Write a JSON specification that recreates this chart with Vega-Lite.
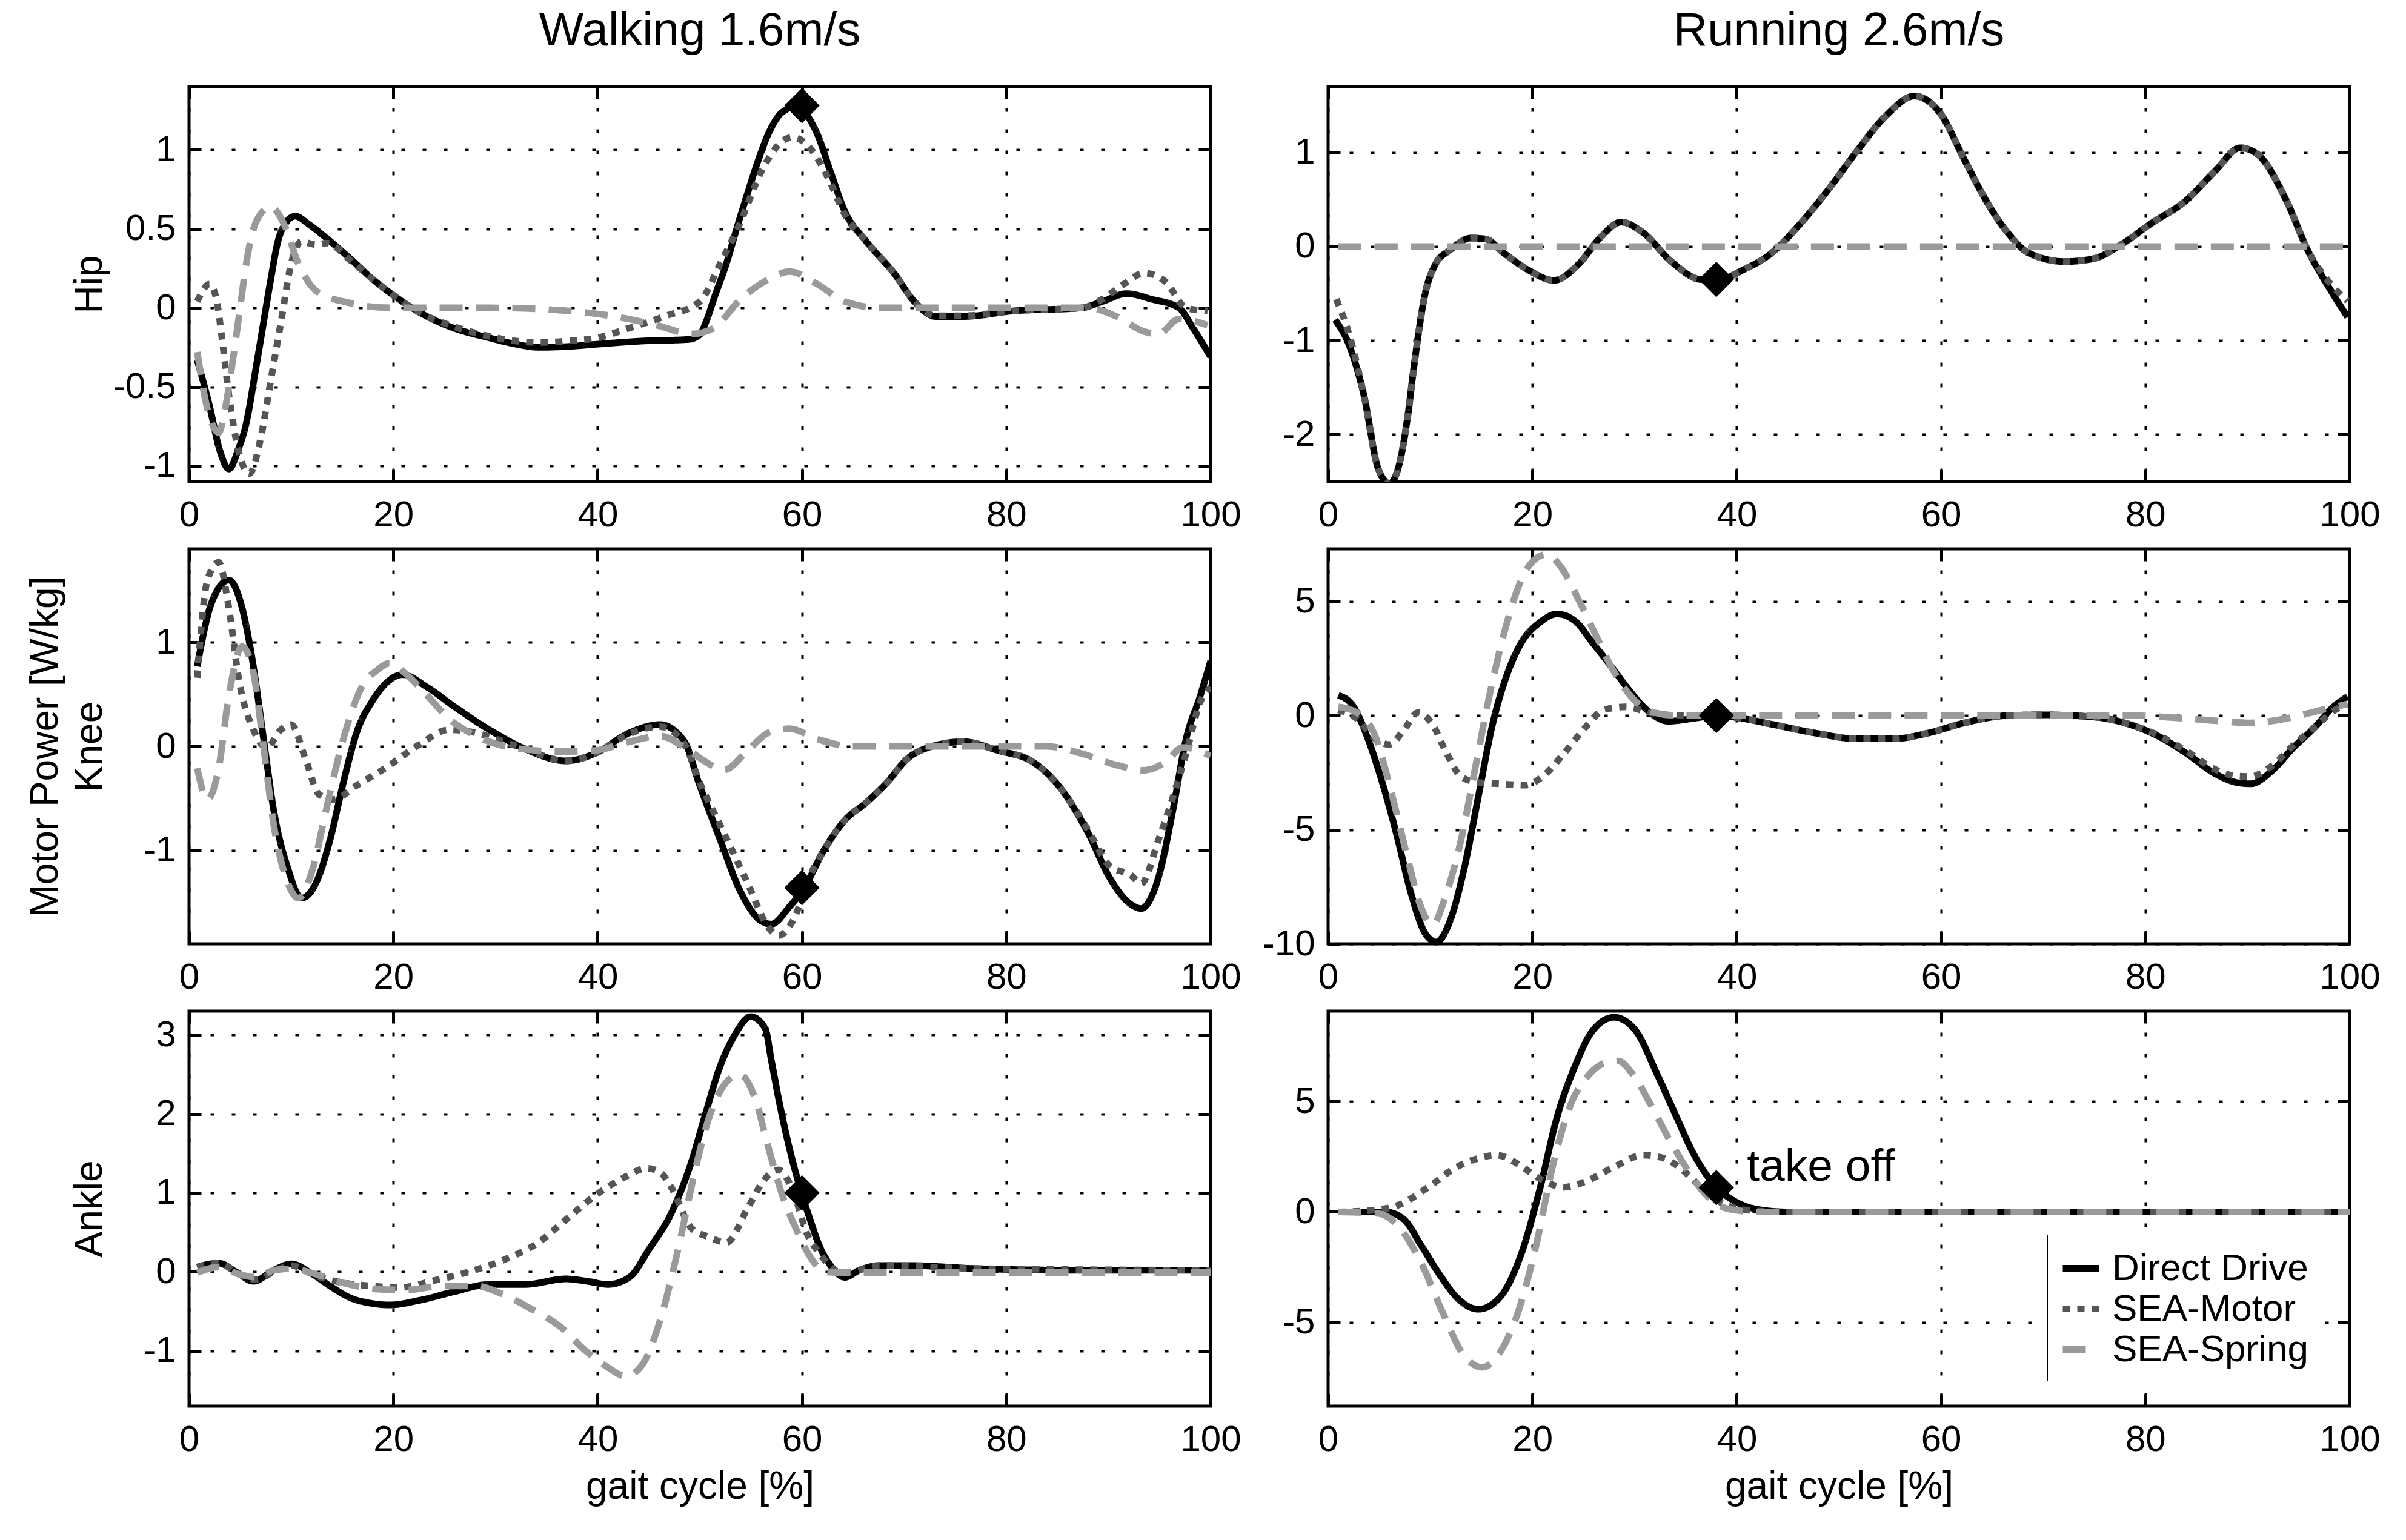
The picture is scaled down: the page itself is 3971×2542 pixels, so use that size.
{
  "$schema": "https://vega.github.io/schema/vega-lite/v6.json",
  "description": "Motor power over the gait cycle: walking and running, hip, knee, ankle",
  "background": "white",
  "padding": {"left": 40, "top": 10, "right": 20, "bottom": 20},
  "datasets": {
    "curves": [
      {"p":"WH","s":"Direct Drive","x":0.8,"y":-0.33},{"p":"WH","s":"Direct Drive","x":2,"y":-0.62},{"p":"WH","s":"Direct Drive","x":3,"y":-0.9},{"p":"WH","s":"Direct Drive","x":3.9,"y":-1.02},{"p":"WH","s":"Direct Drive","x":4.8,"y":-0.9},{"p":"WH","s":"Direct Drive","x":5.6,"y":-0.73},{"p":"WH","s":"Direct Drive","x":6.5,"y":-0.4},{"p":"WH","s":"Direct Drive","x":7.3,"y":-0.09},{"p":"WH","s":"Direct Drive","x":8,"y":0.18},{"p":"WH","s":"Direct Drive","x":8.7,"y":0.42},{"p":"WH","s":"Direct Drive","x":9.5,"y":0.54},{"p":"WH","s":"Direct Drive","x":10.4,"y":0.58},{"p":"WH","s":"Direct Drive","x":11.7,"y":0.53},{"p":"WH","s":"Direct Drive","x":13.1,"y":0.46},{"p":"WH","s":"Direct Drive","x":15.8,"y":0.31},{"p":"WH","s":"Direct Drive","x":18,"y":0.18},{"p":"WH","s":"Direct Drive","x":20,"y":0.08},{"p":"WH","s":"Direct Drive","x":22.6,"y":-0.03},{"p":"WH","s":"Direct Drive","x":26,"y":-0.13},{"p":"WH","s":"Direct Drive","x":29.4,"y":-0.19},{"p":"WH","s":"Direct Drive","x":32,"y":-0.23},{"p":"WH","s":"Direct Drive","x":34.2,"y":-0.25},{"p":"WH","s":"Direct Drive","x":37,"y":-0.245},{"p":"WH","s":"Direct Drive","x":40,"y":-0.23},{"p":"WH","s":"Direct Drive","x":44.4,"y":-0.21},{"p":"WH","s":"Direct Drive","x":48.9,"y":-0.2},{"p":"WH","s":"Direct Drive","x":50,"y":-0.17},{"p":"WH","s":"Direct Drive","x":50.6,"y":-0.09},{"p":"WH","s":"Direct Drive","x":51.5,"y":0.08},{"p":"WH","s":"Direct Drive","x":52.6,"y":0.28},{"p":"WH","s":"Direct Drive","x":53.6,"y":0.5},{"p":"WH","s":"Direct Drive","x":54.7,"y":0.73},{"p":"WH","s":"Direct Drive","x":55.7,"y":0.93},{"p":"WH","s":"Direct Drive","x":56.7,"y":1.1},{"p":"WH","s":"Direct Drive","x":58.1,"y":1.24},{"p":"WH","s":"Direct Drive","x":59.8,"y":1.28},{"p":"WH","s":"Direct Drive","x":60.7,"y":1.2},{"p":"WH","s":"Direct Drive","x":61.5,"y":1.1},{"p":"WH","s":"Direct Drive","x":62.8,"y":0.86},{"p":"WH","s":"Direct Drive","x":64.2,"y":0.61},{"p":"WH","s":"Direct Drive","x":66.3,"y":0.42},{"p":"WH","s":"Direct Drive","x":69,"y":0.22},{"p":"WH","s":"Direct Drive","x":71,"y":0.04},{"p":"WH","s":"Direct Drive","x":73.1,"y":-0.055},{"p":"WH","s":"Direct Drive","x":75.8,"y":-0.055},{"p":"WH","s":"Direct Drive","x":80.6,"y":-0.02},{"p":"WH","s":"Direct Drive","x":87.4,"y":0},{"p":"WH","s":"Direct Drive","x":89.4,"y":0.04},{"p":"WH","s":"Direct Drive","x":91.8,"y":0.09},{"p":"WH","s":"Direct Drive","x":94.2,"y":0.055},{"p":"WH","s":"Direct Drive","x":96.9,"y":0},{"p":"WH","s":"Direct Drive","x":98.3,"y":-0.13},{"p":"WH","s":"Direct Drive","x":100,"y":-0.31},
      {"p":"WH","s":"SEA-Motor","x":0.8,"y":0.04},{"p":"WH","s":"SEA-Motor","x":2,"y":0.15},{"p":"WH","s":"SEA-Motor","x":2.7,"y":0.05},{"p":"WH","s":"SEA-Motor","x":3.2,"y":-0.18},{"p":"WH","s":"SEA-Motor","x":3.9,"y":-0.55},{"p":"WH","s":"SEA-Motor","x":4.9,"y":-0.92},{"p":"WH","s":"SEA-Motor","x":5.9,"y":-1.05},{"p":"WH","s":"SEA-Motor","x":7,"y":-0.83},{"p":"WH","s":"SEA-Motor","x":8,"y":-0.46},{"p":"WH","s":"SEA-Motor","x":9,"y":-0.09},{"p":"WH","s":"SEA-Motor","x":10,"y":0.28},{"p":"WH","s":"SEA-Motor","x":11,"y":0.42},{"p":"WH","s":"SEA-Motor","x":12.4,"y":0.4},{"p":"WH","s":"SEA-Motor","x":13.5,"y":0.41},{"p":"WH","s":"SEA-Motor","x":15.8,"y":0.3},{"p":"WH","s":"SEA-Motor","x":18,"y":0.18},{"p":"WH","s":"SEA-Motor","x":20,"y":0.08},{"p":"WH","s":"SEA-Motor","x":22.6,"y":-0.03},{"p":"WH","s":"SEA-Motor","x":26,"y":-0.12},{"p":"WH","s":"SEA-Motor","x":29.4,"y":-0.18},{"p":"WH","s":"SEA-Motor","x":32,"y":-0.21},{"p":"WH","s":"SEA-Motor","x":34.2,"y":-0.22},{"p":"WH","s":"SEA-Motor","x":37,"y":-0.21},{"p":"WH","s":"SEA-Motor","x":40,"y":-0.19},{"p":"WH","s":"SEA-Motor","x":43,"y":-0.13},{"p":"WH","s":"SEA-Motor","x":46.5,"y":-0.055},{"p":"WH","s":"SEA-Motor","x":50,"y":0.04},{"p":"WH","s":"SEA-Motor","x":52,"y":0.28},{"p":"WH","s":"SEA-Motor","x":53.9,"y":0.53},{"p":"WH","s":"SEA-Motor","x":56,"y":0.86},{"p":"WH","s":"SEA-Motor","x":58,"y":1.05},{"p":"WH","s":"SEA-Motor","x":59.1,"y":1.08},{"p":"WH","s":"SEA-Motor","x":60.8,"y":1.01},{"p":"WH","s":"SEA-Motor","x":62.5,"y":0.83},{"p":"WH","s":"SEA-Motor","x":64.2,"y":0.59},{"p":"WH","s":"SEA-Motor","x":66.3,"y":0.42},{"p":"WH","s":"SEA-Motor","x":69,"y":0.22},{"p":"WH","s":"SEA-Motor","x":71,"y":0.04},{"p":"WH","s":"SEA-Motor","x":73.1,"y":-0.05},{"p":"WH","s":"SEA-Motor","x":75.8,"y":-0.05},{"p":"WH","s":"SEA-Motor","x":80.6,"y":-0.02},{"p":"WH","s":"SEA-Motor","x":87.4,"y":0},{"p":"WH","s":"SEA-Motor","x":89.4,"y":0.055},{"p":"WH","s":"SEA-Motor","x":91.5,"y":0.15},{"p":"WH","s":"SEA-Motor","x":93.5,"y":0.22},{"p":"WH","s":"SEA-Motor","x":95.6,"y":0.165},{"p":"WH","s":"SEA-Motor","x":97.6,"y":0},{"p":"WH","s":"SEA-Motor","x":99.7,"y":-0.02},
      {"p":"WH","s":"SEA-Spring","x":0.8,"y":-0.28},{"p":"WH","s":"SEA-Spring","x":1.8,"y":-0.64},{"p":"WH","s":"SEA-Spring","x":2.9,"y":-0.79},{"p":"WH","s":"SEA-Spring","x":3.5,"y":-0.65},{"p":"WH","s":"SEA-Spring","x":4.2,"y":-0.37},{"p":"WH","s":"SEA-Spring","x":5,"y":0},{"p":"WH","s":"SEA-Spring","x":5.6,"y":0.28},{"p":"WH","s":"SEA-Spring","x":6.6,"y":0.55},{"p":"WH","s":"SEA-Spring","x":8,"y":0.64},{"p":"WH","s":"SEA-Spring","x":9.3,"y":0.53},{"p":"WH","s":"SEA-Spring","x":10.7,"y":0.28},{"p":"WH","s":"SEA-Spring","x":12.4,"y":0.11},{"p":"WH","s":"SEA-Spring","x":15.1,"y":0.04},{"p":"WH","s":"SEA-Spring","x":19.9,"y":0},{"p":"WH","s":"SEA-Spring","x":29.4,"y":0},{"p":"WH","s":"SEA-Spring","x":36.3,"y":-0.015},{"p":"WH","s":"SEA-Spring","x":41.7,"y":-0.055},{"p":"WH","s":"SEA-Spring","x":45.8,"y":-0.11},{"p":"WH","s":"SEA-Spring","x":49.2,"y":-0.165},{"p":"WH","s":"SEA-Spring","x":51.3,"y":-0.13},{"p":"WH","s":"SEA-Spring","x":54,"y":0.055},{"p":"WH","s":"SEA-Spring","x":56.7,"y":0.18},{"p":"WH","s":"SEA-Spring","x":58.8,"y":0.23},{"p":"WH","s":"SEA-Spring","x":61.5,"y":0.15},{"p":"WH","s":"SEA-Spring","x":64.2,"y":0.04},{"p":"WH","s":"SEA-Spring","x":67.6,"y":0},{"p":"WH","s":"SEA-Spring","x":88,"y":0},{"p":"WH","s":"SEA-Spring","x":90.8,"y":-0.055},{"p":"WH","s":"SEA-Spring","x":93.5,"y":-0.15},{"p":"WH","s":"SEA-Spring","x":94.9,"y":-0.165},{"p":"WH","s":"SEA-Spring","x":96.9,"y":-0.07},{"p":"WH","s":"SEA-Spring","x":99.7,"y":-0.11},

      {"p":"RH","s":"Direct Drive","x":0.7,"y":-0.78},{"p":"RH","s":"Direct Drive","x":2.1,"y":-1.06},{"p":"RH","s":"Direct Drive","x":3.5,"y":-1.58},{"p":"RH","s":"Direct Drive","x":4.9,"y":-2.36},{"p":"RH","s":"Direct Drive","x":6,"y":-2.52},{"p":"RH","s":"Direct Drive","x":7,"y":-2.3},{"p":"RH","s":"Direct Drive","x":7.8,"y":-1.8},{"p":"RH","s":"Direct Drive","x":8.4,"y":-1.28},{"p":"RH","s":"Direct Drive","x":9.5,"y":-0.5},{"p":"RH","s":"Direct Drive","x":10.5,"y":-0.19},{"p":"RH","s":"Direct Drive","x":11.9,"y":-0.04},{"p":"RH","s":"Direct Drive","x":14,"y":0.09},{"p":"RH","s":"Direct Drive","x":15.4,"y":0.08},{"p":"RH","s":"Direct Drive","x":17.2,"y":-0.07},{"p":"RH","s":"Direct Drive","x":19.6,"y":-0.25},{"p":"RH","s":"Direct Drive","x":22.1,"y":-0.36},{"p":"RH","s":"Direct Drive","x":24.5,"y":-0.19},{"p":"RH","s":"Direct Drive","x":26.6,"y":0.09},{"p":"RH","s":"Direct Drive","x":28.7,"y":0.26},{"p":"RH","s":"Direct Drive","x":30.8,"y":0.15},{"p":"RH","s":"Direct Drive","x":33.6,"y":-0.16},{"p":"RH","s":"Direct Drive","x":36.4,"y":-0.35},{"p":"RH","s":"Direct Drive","x":38,"y":-0.36},{"p":"RH","s":"Direct Drive","x":40.6,"y":-0.25},{"p":"RH","s":"Direct Drive","x":43.4,"y":-0.07},{"p":"RH","s":"Direct Drive","x":46.2,"y":0.24},{"p":"RH","s":"Direct Drive","x":49,"y":0.61},{"p":"RH","s":"Direct Drive","x":51.8,"y":1.02},{"p":"RH","s":"Direct Drive","x":54.6,"y":1.39},{"p":"RH","s":"Direct Drive","x":57.4,"y":1.6},{"p":"RH","s":"Direct Drive","x":59.9,"y":1.42},{"p":"RH","s":"Direct Drive","x":62.3,"y":0.92},{"p":"RH","s":"Direct Drive","x":64.4,"y":0.49},{"p":"RH","s":"Direct Drive","x":66.5,"y":0.15},{"p":"RH","s":"Direct Drive","x":68.6,"y":-0.07},{"p":"RH","s":"Direct Drive","x":72.1,"y":-0.16},{"p":"RH","s":"Direct Drive","x":74.9,"y":-0.13},{"p":"RH","s":"Direct Drive","x":77.7,"y":0.025},{"p":"RH","s":"Direct Drive","x":80.5,"y":0.24},{"p":"RH","s":"Direct Drive","x":84,"y":0.49},{"p":"RH","s":"Direct Drive","x":86.8,"y":0.8},{"p":"RH","s":"Direct Drive","x":89.3,"y":1.05},{"p":"RH","s":"Direct Drive","x":91,"y":0.98},{"p":"RH","s":"Direct Drive","x":93.8,"y":0.49},{"p":"RH","s":"Direct Drive","x":95.9,"y":-0.04},{"p":"RH","s":"Direct Drive","x":98,"y":-0.44},{"p":"RH","s":"Direct Drive","x":99.8,"y":-0.75},
      {"p":"RH","s":"SEA-Motor","x":0.8,"y":-0.56},{"p":"RH","s":"SEA-Motor","x":2.1,"y":-0.95},{"p":"RH","s":"SEA-Motor","x":3.5,"y":-1.58},{"p":"RH","s":"SEA-Motor","x":4.9,"y":-2.36},{"p":"RH","s":"SEA-Motor","x":6,"y":-2.52},{"p":"RH","s":"SEA-Motor","x":7,"y":-2.3},{"p":"RH","s":"SEA-Motor","x":7.8,"y":-1.8},{"p":"RH","s":"SEA-Motor","x":8.4,"y":-1.28},{"p":"RH","s":"SEA-Motor","x":9.5,"y":-0.5},{"p":"RH","s":"SEA-Motor","x":10.5,"y":-0.19},{"p":"RH","s":"SEA-Motor","x":11.9,"y":-0.04},{"p":"RH","s":"SEA-Motor","x":14,"y":0.09},{"p":"RH","s":"SEA-Motor","x":15.4,"y":0.08},{"p":"RH","s":"SEA-Motor","x":17.2,"y":-0.07},{"p":"RH","s":"SEA-Motor","x":19.6,"y":-0.25},{"p":"RH","s":"SEA-Motor","x":22.1,"y":-0.36},{"p":"RH","s":"SEA-Motor","x":24.5,"y":-0.19},{"p":"RH","s":"SEA-Motor","x":26.6,"y":0.09},{"p":"RH","s":"SEA-Motor","x":28.7,"y":0.26},{"p":"RH","s":"SEA-Motor","x":30.8,"y":0.15},{"p":"RH","s":"SEA-Motor","x":33.6,"y":-0.16},{"p":"RH","s":"SEA-Motor","x":36.4,"y":-0.35},{"p":"RH","s":"SEA-Motor","x":38,"y":-0.36},{"p":"RH","s":"SEA-Motor","x":40.6,"y":-0.25},{"p":"RH","s":"SEA-Motor","x":43.4,"y":-0.07},{"p":"RH","s":"SEA-Motor","x":46.2,"y":0.24},{"p":"RH","s":"SEA-Motor","x":49,"y":0.61},{"p":"RH","s":"SEA-Motor","x":51.8,"y":1.02},{"p":"RH","s":"SEA-Motor","x":54.6,"y":1.39},{"p":"RH","s":"SEA-Motor","x":57.4,"y":1.6},{"p":"RH","s":"SEA-Motor","x":59.9,"y":1.42},{"p":"RH","s":"SEA-Motor","x":62.3,"y":0.92},{"p":"RH","s":"SEA-Motor","x":64.4,"y":0.49},{"p":"RH","s":"SEA-Motor","x":66.5,"y":0.15},{"p":"RH","s":"SEA-Motor","x":68.6,"y":-0.07},{"p":"RH","s":"SEA-Motor","x":72.1,"y":-0.16},{"p":"RH","s":"SEA-Motor","x":74.9,"y":-0.13},{"p":"RH","s":"SEA-Motor","x":77.7,"y":0.025},{"p":"RH","s":"SEA-Motor","x":80.5,"y":0.24},{"p":"RH","s":"SEA-Motor","x":84,"y":0.49},{"p":"RH","s":"SEA-Motor","x":86.8,"y":0.8},{"p":"RH","s":"SEA-Motor","x":89.3,"y":1.05},{"p":"RH","s":"SEA-Motor","x":91,"y":0.98},{"p":"RH","s":"SEA-Motor","x":93.8,"y":0.49},{"p":"RH","s":"SEA-Motor","x":95.9,"y":-0.04},{"p":"RH","s":"SEA-Motor","x":98,"y":-0.38},{"p":"RH","s":"SEA-Motor","x":99.8,"y":-0.58},
      {"p":"RH","s":"SEA-Spring","x":1,"y":0},{"p":"RH","s":"SEA-Spring","x":50,"y":0},{"p":"RH","s":"SEA-Spring","x":100,"y":0},

      {"p":"WK","s":"Direct Drive","x":0.8,"y":0.77},{"p":"WK","s":"Direct Drive","x":2.2,"y":1.38},{"p":"WK","s":"Direct Drive","x":3.9,"y":1.6},{"p":"WK","s":"Direct Drive","x":5.2,"y":1.33},{"p":"WK","s":"Direct Drive","x":6.3,"y":0.77},{"p":"WK","s":"Direct Drive","x":7.3,"y":0.07},{"p":"WK","s":"Direct Drive","x":8.3,"y":-0.62},{"p":"WK","s":"Direct Drive","x":9.7,"y":-1.18},{"p":"WK","s":"Direct Drive","x":11,"y":-1.46},{"p":"WK","s":"Direct Drive","x":12.4,"y":-1.32},{"p":"WK","s":"Direct Drive","x":13.8,"y":-0.9},{"p":"WK","s":"Direct Drive","x":15.1,"y":-0.35},{"p":"WK","s":"Direct Drive","x":16.5,"y":0.16},{"p":"WK","s":"Direct Drive","x":17.9,"y":0.43},{"p":"WK","s":"Direct Drive","x":19.2,"y":0.6},{"p":"WK","s":"Direct Drive","x":20.9,"y":0.69},{"p":"WK","s":"Direct Drive","x":23.3,"y":0.57},{"p":"WK","s":"Direct Drive","x":26,"y":0.38},{"p":"WK","s":"Direct Drive","x":29.4,"y":0.16},{"p":"WK","s":"Direct Drive","x":32.9,"y":-0.025},{"p":"WK","s":"Direct Drive","x":36.9,"y":-0.14},{"p":"WK","s":"Direct Drive","x":39.7,"y":-0.07},{"p":"WK","s":"Direct Drive","x":43.1,"y":0.13},{"p":"WK","s":"Direct Drive","x":46.1,"y":0.21},{"p":"WK","s":"Direct Drive","x":48.5,"y":0.045},{"p":"WK","s":"Direct Drive","x":49.9,"y":-0.35},{"p":"WK","s":"Direct Drive","x":52,"y":-0.9},{"p":"WK","s":"Direct Drive","x":54,"y":-1.4},{"p":"WK","s":"Direct Drive","x":56,"y":-1.68},{"p":"WK","s":"Direct Drive","x":57,"y":-1.71},{"p":"WK","s":"Direct Drive","x":58.8,"y":-1.54},{"p":"WK","s":"Direct Drive","x":60.1,"y":-1.38},{"p":"WK","s":"Direct Drive","x":62.2,"y":-0.99},{"p":"WK","s":"Direct Drive","x":64.2,"y":-0.71},{"p":"WK","s":"Direct Drive","x":66.3,"y":-0.54},{"p":"WK","s":"Direct Drive","x":68.3,"y":-0.35},{"p":"WK","s":"Direct Drive","x":70.3,"y":-0.12},{"p":"WK","s":"Direct Drive","x":72.4,"y":-0.01},{"p":"WK","s":"Direct Drive","x":75.8,"y":0.045},{"p":"WK","s":"Direct Drive","x":79.2,"y":-0.04},{"p":"WK","s":"Direct Drive","x":82.6,"y":-0.15},{"p":"WK","s":"Direct Drive","x":85.3,"y":-0.4},{"p":"WK","s":"Direct Drive","x":88.1,"y":-0.85},{"p":"WK","s":"Direct Drive","x":90.1,"y":-1.26},{"p":"WK","s":"Direct Drive","x":92.2,"y":-1.52},{"p":"WK","s":"Direct Drive","x":93.2,"y":-1.56},{"p":"WK","s":"Direct Drive","x":94.9,"y":-1.26},{"p":"WK","s":"Direct Drive","x":96.3,"y":-0.62},{"p":"WK","s":"Direct Drive","x":97.6,"y":0.07},{"p":"WK","s":"Direct Drive","x":99,"y":0.49},{"p":"WK","s":"Direct Drive","x":100,"y":0.82},
      {"p":"WK","s":"SEA-Motor","x":0.8,"y":0.66},{"p":"WK","s":"SEA-Motor","x":1.8,"y":1.6},{"p":"WK","s":"SEA-Motor","x":2.9,"y":1.77},{"p":"WK","s":"SEA-Motor","x":3.9,"y":1.33},{"p":"WK","s":"SEA-Motor","x":4.9,"y":0.63},{"p":"WK","s":"SEA-Motor","x":6.3,"y":0.16},{"p":"WK","s":"SEA-Motor","x":7.6,"y":-0.01},{"p":"WK","s":"SEA-Motor","x":9,"y":0.16},{"p":"WK","s":"SEA-Motor","x":10,"y":0.21},{"p":"WK","s":"SEA-Motor","x":11.4,"y":-0.12},{"p":"WK","s":"SEA-Motor","x":12.7,"y":-0.46},{"p":"WK","s":"SEA-Motor","x":14.1,"y":-0.51},{"p":"WK","s":"SEA-Motor","x":16.5,"y":-0.37},{"p":"WK","s":"SEA-Motor","x":19.2,"y":-0.21},{"p":"WK","s":"SEA-Motor","x":22.6,"y":0.02},{"p":"WK","s":"SEA-Motor","x":25.4,"y":0.16},{"p":"WK","s":"SEA-Motor","x":28.1,"y":0.13},{"p":"WK","s":"SEA-Motor","x":30.8,"y":0.045},{"p":"WK","s":"SEA-Motor","x":32.9,"y":-0.025},{"p":"WK","s":"SEA-Motor","x":36.9,"y":-0.14},{"p":"WK","s":"SEA-Motor","x":39.7,"y":-0.07},{"p":"WK","s":"SEA-Motor","x":43.1,"y":0.12},{"p":"WK","s":"SEA-Motor","x":46.1,"y":0.19},{"p":"WK","s":"SEA-Motor","x":48.5,"y":0.02},{"p":"WK","s":"SEA-Motor","x":50,"y":-0.35},{"p":"WK","s":"SEA-Motor","x":52,"y":-0.76},{"p":"WK","s":"SEA-Motor","x":54.7,"y":-1.32},{"p":"WK","s":"SEA-Motor","x":56.7,"y":-1.74},{"p":"WK","s":"SEA-Motor","x":57.7,"y":-1.82},{"p":"WK","s":"SEA-Motor","x":59.1,"y":-1.68},{"p":"WK","s":"SEA-Motor","x":60.8,"y":-1.24},{"p":"WK","s":"SEA-Motor","x":62.2,"y":-0.99},{"p":"WK","s":"SEA-Motor","x":64.2,"y":-0.71},{"p":"WK","s":"SEA-Motor","x":66.3,"y":-0.54},{"p":"WK","s":"SEA-Motor","x":68.3,"y":-0.35},{"p":"WK","s":"SEA-Motor","x":70.3,"y":-0.12},{"p":"WK","s":"SEA-Motor","x":72.4,"y":-0.01},{"p":"WK","s":"SEA-Motor","x":75.8,"y":0.045},{"p":"WK","s":"SEA-Motor","x":79.2,"y":-0.04},{"p":"WK","s":"SEA-Motor","x":82.6,"y":-0.15},{"p":"WK","s":"SEA-Motor","x":85.3,"y":-0.4},{"p":"WK","s":"SEA-Motor","x":88.1,"y":-0.82},{"p":"WK","s":"SEA-Motor","x":90.1,"y":-1.15},{"p":"WK","s":"SEA-Motor","x":92.2,"y":-1.24},{"p":"WK","s":"SEA-Motor","x":93.2,"y":-1.32},{"p":"WK","s":"SEA-Motor","x":94.9,"y":-0.9},{"p":"WK","s":"SEA-Motor","x":97.6,"y":-0.07},{"p":"WK","s":"SEA-Motor","x":99,"y":0.43},{"p":"WK","s":"SEA-Motor","x":100,"y":0.57},
      {"p":"WK","s":"SEA-Spring","x":0.8,"y":-0.21},{"p":"WK","s":"SEA-Spring","x":1.8,"y":-0.51},{"p":"WK","s":"SEA-Spring","x":2.9,"y":-0.21},{"p":"WK","s":"SEA-Spring","x":3.9,"y":0.49},{"p":"WK","s":"SEA-Spring","x":5.2,"y":0.96},{"p":"WK","s":"SEA-Spring","x":6.3,"y":0.71},{"p":"WK","s":"SEA-Spring","x":7.3,"y":-0.01},{"p":"WK","s":"SEA-Spring","x":8.3,"y":-0.76},{"p":"WK","s":"SEA-Spring","x":9.7,"y":-1.32},{"p":"WK","s":"SEA-Spring","x":10.7,"y":-1.46},{"p":"WK","s":"SEA-Spring","x":12.1,"y":-1.18},{"p":"WK","s":"SEA-Spring","x":13.4,"y":-0.62},{"p":"WK","s":"SEA-Spring","x":15.1,"y":0.07},{"p":"WK","s":"SEA-Spring","x":16.8,"y":0.55},{"p":"WK","s":"SEA-Spring","x":18.5,"y":0.74},{"p":"WK","s":"SEA-Spring","x":19.6,"y":0.8},{"p":"WK","s":"SEA-Spring","x":21.3,"y":0.69},{"p":"WK","s":"SEA-Spring","x":23.3,"y":0.49},{"p":"WK","s":"SEA-Spring","x":25.4,"y":0.27},{"p":"WK","s":"SEA-Spring","x":28.1,"y":0.1},{"p":"WK","s":"SEA-Spring","x":31.5,"y":-0.01},{"p":"WK","s":"SEA-Spring","x":36.3,"y":-0.05},{"p":"WK","s":"SEA-Spring","x":39.7,"y":-0.04},{"p":"WK","s":"SEA-Spring","x":43.1,"y":0.045},{"p":"WK","s":"SEA-Spring","x":46.1,"y":0.1},{"p":"WK","s":"SEA-Spring","x":48.5,"y":-0.01},{"p":"WK","s":"SEA-Spring","x":50.6,"y":-0.15},{"p":"WK","s":"SEA-Spring","x":52.3,"y":-0.23},{"p":"WK","s":"SEA-Spring","x":54.7,"y":-0.04},{"p":"WK","s":"SEA-Spring","x":56.7,"y":0.13},{"p":"WK","s":"SEA-Spring","x":58.8,"y":0.17},{"p":"WK","s":"SEA-Spring","x":61.5,"y":0.07},{"p":"WK","s":"SEA-Spring","x":64.9,"y":0},{"p":"WK","s":"SEA-Spring","x":84,"y":0},{"p":"WK","s":"SEA-Spring","x":87.4,"y":-0.07},{"p":"WK","s":"SEA-Spring","x":90.8,"y":-0.18},{"p":"WK","s":"SEA-Spring","x":93.5,"y":-0.23},{"p":"WK","s":"SEA-Spring","x":95.6,"y":-0.15},{"p":"WK","s":"SEA-Spring","x":97.3,"y":-0.01},{"p":"WK","s":"SEA-Spring","x":100,"y":-0.09},

      {"p":"RK","s":"Direct Drive","x":1,"y":0.89},{"p":"RK","s":"Direct Drive","x":2.5,"y":0.38},{"p":"RK","s":"Direct Drive","x":3.9,"y":-1.02},{"p":"RK","s":"Direct Drive","x":5.3,"y":-2.93},{"p":"RK","s":"Direct Drive","x":6.7,"y":-5.2},{"p":"RK","s":"Direct Drive","x":8.1,"y":-7.76},{"p":"RK","s":"Direct Drive","x":9.5,"y":-9.54},{"p":"RK","s":"Direct Drive","x":10.6,"y":-9.92},{"p":"RK","s":"Direct Drive","x":11.9,"y":-9.03},{"p":"RK","s":"Direct Drive","x":13.3,"y":-6.74},{"p":"RK","s":"Direct Drive","x":14.7,"y":-3.56},{"p":"RK","s":"Direct Drive","x":16.1,"y":-0.38},{"p":"RK","s":"Direct Drive","x":17.5,"y":1.78},{"p":"RK","s":"Direct Drive","x":18.9,"y":3.18},{"p":"RK","s":"Direct Drive","x":20.7,"y":4.07},{"p":"RK","s":"Direct Drive","x":22.4,"y":4.45},{"p":"RK","s":"Direct Drive","x":24.2,"y":4.13},{"p":"RK","s":"Direct Drive","x":25.9,"y":3.18},{"p":"RK","s":"Direct Drive","x":27.7,"y":2.16},{"p":"RK","s":"Direct Drive","x":29.4,"y":1.15},{"p":"RK","s":"Direct Drive","x":31.2,"y":0.25},{"p":"RK","s":"Direct Drive","x":33.3,"y":-0.25},{"p":"RK","s":"Direct Drive","x":35.7,"y":-0.13},{"p":"RK","s":"Direct Drive","x":38,"y":0},{"p":"RK","s":"Direct Drive","x":40.6,"y":-0.13},{"p":"RK","s":"Direct Drive","x":43.4,"y":-0.38},{"p":"RK","s":"Direct Drive","x":47.6,"y":-0.76},{"p":"RK","s":"Direct Drive","x":51.8,"y":-1.02},{"p":"RK","s":"Direct Drive","x":55.3,"y":-1.02},{"p":"RK","s":"Direct Drive","x":58.8,"y":-0.76},{"p":"RK","s":"Direct Drive","x":62.3,"y":-0.32},{"p":"RK","s":"Direct Drive","x":66.5,"y":0},{"p":"RK","s":"Direct Drive","x":70,"y":0.03},{"p":"RK","s":"Direct Drive","x":74.9,"y":-0.06},{"p":"RK","s":"Direct Drive","x":78.4,"y":-0.38},{"p":"RK","s":"Direct Drive","x":81.2,"y":-0.89},{"p":"RK","s":"Direct Drive","x":84,"y":-1.65},{"p":"RK","s":"Direct Drive","x":86.8,"y":-2.54},{"p":"RK","s":"Direct Drive","x":88.9,"y":-2.93},{"p":"RK","s":"Direct Drive","x":90.3,"y":-2.99},{"p":"RK","s":"Direct Drive","x":92.4,"y":-2.42},{"p":"RK","s":"Direct Drive","x":94.5,"y":-1.4},{"p":"RK","s":"Direct Drive","x":96.6,"y":-0.51},{"p":"RK","s":"Direct Drive","x":98.4,"y":0.38},{"p":"RK","s":"Direct Drive","x":99.8,"y":0.83},
      {"p":"RK","s":"SEA-Motor","x":1,"y":0.25},{"p":"RK","s":"SEA-Motor","x":2.8,"y":-0.13},{"p":"RK","s":"SEA-Motor","x":4.6,"y":-1.02},{"p":"RK","s":"SEA-Motor","x":6,"y":-1.27},{"p":"RK","s":"SEA-Motor","x":7.4,"y":-0.64},{"p":"RK","s":"SEA-Motor","x":8.8,"y":0.13},{"p":"RK","s":"SEA-Motor","x":10.2,"y":-0.38},{"p":"RK","s":"SEA-Motor","x":11.6,"y":-1.65},{"p":"RK","s":"SEA-Motor","x":13,"y":-2.67},{"p":"RK","s":"SEA-Motor","x":14.7,"y":-2.93},{"p":"RK","s":"SEA-Motor","x":16.8,"y":-2.99},{"p":"RK","s":"SEA-Motor","x":19.3,"y":-3.05},{"p":"RK","s":"SEA-Motor","x":21,"y":-2.67},{"p":"RK","s":"SEA-Motor","x":23.1,"y":-1.65},{"p":"RK","s":"SEA-Motor","x":25.2,"y":-0.51},{"p":"RK","s":"SEA-Motor","x":27,"y":0.25},{"p":"RK","s":"SEA-Motor","x":29.1,"y":0.38},{"p":"RK","s":"SEA-Motor","x":31.5,"y":0.13},{"p":"RK","s":"SEA-Motor","x":34.3,"y":0},{"p":"RK","s":"SEA-Motor","x":38,"y":0},{"p":"RK","s":"SEA-Motor","x":40.6,"y":-0.13},{"p":"RK","s":"SEA-Motor","x":43.4,"y":-0.38},{"p":"RK","s":"SEA-Motor","x":47.6,"y":-0.76},{"p":"RK","s":"SEA-Motor","x":51.8,"y":-1.02},{"p":"RK","s":"SEA-Motor","x":55.3,"y":-1.02},{"p":"RK","s":"SEA-Motor","x":58.8,"y":-0.76},{"p":"RK","s":"SEA-Motor","x":62.3,"y":-0.32},{"p":"RK","s":"SEA-Motor","x":66.5,"y":0},{"p":"RK","s":"SEA-Motor","x":70,"y":0.03},{"p":"RK","s":"SEA-Motor","x":74.9,"y":-0.06},{"p":"RK","s":"SEA-Motor","x":78.4,"y":-0.38},{"p":"RK","s":"SEA-Motor","x":81.2,"y":-0.85},{"p":"RK","s":"SEA-Motor","x":84,"y":-1.55},{"p":"RK","s":"SEA-Motor","x":86.8,"y":-2.35},{"p":"RK","s":"SEA-Motor","x":88.9,"y":-2.65},{"p":"RK","s":"SEA-Motor","x":90.3,"y":-2.67},{"p":"RK","s":"SEA-Motor","x":92.4,"y":-2.2},{"p":"RK","s":"SEA-Motor","x":94.5,"y":-1.3},{"p":"RK","s":"SEA-Motor","x":96.6,"y":-0.5},{"p":"RK","s":"SEA-Motor","x":98.4,"y":0.2},{"p":"RK","s":"SEA-Motor","x":99.8,"y":0.5},
      {"p":"RK","s":"SEA-Spring","x":1,"y":0.38},{"p":"RK","s":"SEA-Spring","x":2.8,"y":0.13},{"p":"RK","s":"SEA-Spring","x":4.6,"y":-0.89},{"p":"RK","s":"SEA-Spring","x":6.3,"y":-3.56},{"p":"RK","s":"SEA-Spring","x":7.7,"y":-6.1},{"p":"RK","s":"SEA-Spring","x":9.1,"y":-8.4},{"p":"RK","s":"SEA-Spring","x":10.2,"y":-9.16},{"p":"RK","s":"SEA-Spring","x":11.6,"y":-7.76},{"p":"RK","s":"SEA-Spring","x":13,"y":-5.47},{"p":"RK","s":"SEA-Spring","x":14.4,"y":-2.29},{"p":"RK","s":"SEA-Spring","x":15.8,"y":0.89},{"p":"RK","s":"SEA-Spring","x":17.2,"y":3.56},{"p":"RK","s":"SEA-Spring","x":18.6,"y":5.6},{"p":"RK","s":"SEA-Spring","x":20,"y":6.74},{"p":"RK","s":"SEA-Spring","x":21.4,"y":7.06},{"p":"RK","s":"SEA-Spring","x":22.8,"y":6.5},{"p":"RK","s":"SEA-Spring","x":24.5,"y":5.09},{"p":"RK","s":"SEA-Spring","x":26.3,"y":3.43},{"p":"RK","s":"SEA-Spring","x":28,"y":1.91},{"p":"RK","s":"SEA-Spring","x":29.8,"y":0.76},{"p":"RK","s":"SEA-Spring","x":31.9,"y":0.13},{"p":"RK","s":"SEA-Spring","x":34.3,"y":0},{"p":"RK","s":"SEA-Spring","x":78.4,"y":0},{"p":"RK","s":"SEA-Spring","x":84,"y":-0.13},{"p":"RK","s":"SEA-Spring","x":87.5,"y":-0.25},{"p":"RK","s":"SEA-Spring","x":90.3,"y":-0.32},{"p":"RK","s":"SEA-Spring","x":93.8,"y":-0.13},{"p":"RK","s":"SEA-Spring","x":97.3,"y":0.25},{"p":"RK","s":"SEA-Spring","x":99.8,"y":0.51},

      {"p":"WA","s":"Direct Drive","x":0.8,"y":0.06},{"p":"WA","s":"Direct Drive","x":2.9,"y":0.11},{"p":"WA","s":"Direct Drive","x":4.6,"y":0},{"p":"WA","s":"Direct Drive","x":6.3,"y":-0.12},{"p":"WA","s":"Direct Drive","x":8.3,"y":0.02},{"p":"WA","s":"Direct Drive","x":10,"y":0.1},{"p":"WA","s":"Direct Drive","x":12.1,"y":-0.03},{"p":"WA","s":"Direct Drive","x":13.8,"y":-0.18},{"p":"WA","s":"Direct Drive","x":15.8,"y":-0.33},{"p":"WA","s":"Direct Drive","x":17.9,"y":-0.4},{"p":"WA","s":"Direct Drive","x":19.6,"y":-0.42},{"p":"WA","s":"Direct Drive","x":22.6,"y":-0.36},{"p":"WA","s":"Direct Drive","x":26,"y":-0.25},{"p":"WA","s":"Direct Drive","x":29.4,"y":-0.16},{"p":"WA","s":"Direct Drive","x":32.9,"y":-0.16},{"p":"WA","s":"Direct Drive","x":36.9,"y":-0.09},{"p":"WA","s":"Direct Drive","x":39,"y":-0.12},{"p":"WA","s":"Direct Drive","x":41,"y":-0.16},{"p":"WA","s":"Direct Drive","x":43.1,"y":-0.07},{"p":"WA","s":"Direct Drive","x":45.1,"y":0.3},{"p":"WA","s":"Direct Drive","x":47.2,"y":0.74},{"p":"WA","s":"Direct Drive","x":49.2,"y":1.4},{"p":"WA","s":"Direct Drive","x":50.6,"y":2.02},{"p":"WA","s":"Direct Drive","x":51.9,"y":2.57},{"p":"WA","s":"Direct Drive","x":53.3,"y":2.97},{"p":"WA","s":"Direct Drive","x":55,"y":3.23},{"p":"WA","s":"Direct Drive","x":56.4,"y":3.08},{"p":"WA","s":"Direct Drive","x":57,"y":2.68},{"p":"WA","s":"Direct Drive","x":57.7,"y":2.2},{"p":"WA","s":"Direct Drive","x":58.8,"y":1.55},{"p":"WA","s":"Direct Drive","x":60,"y":0.98},{"p":"WA","s":"Direct Drive","x":60.8,"y":0.66},{"p":"WA","s":"Direct Drive","x":61.8,"y":0.3},{"p":"WA","s":"Direct Drive","x":62.8,"y":0.08},{"p":"WA","s":"Direct Drive","x":64.2,"y":-0.07},{"p":"WA","s":"Direct Drive","x":65.6,"y":0.02},{"p":"WA","s":"Direct Drive","x":67.6,"y":0.08},{"p":"WA","s":"Direct Drive","x":70.3,"y":0.08},{"p":"WA","s":"Direct Drive","x":77.2,"y":0.04},{"p":"WA","s":"Direct Drive","x":87.4,"y":0.02},{"p":"WA","s":"Direct Drive","x":100,"y":0.02},
      {"p":"WA","s":"SEA-Motor","x":0.8,"y":0.06},{"p":"WA","s":"SEA-Motor","x":2.9,"y":0.11},{"p":"WA","s":"SEA-Motor","x":4.9,"y":-0.03},{"p":"WA","s":"SEA-Motor","x":6.6,"y":-0.1},{"p":"WA","s":"SEA-Motor","x":8.3,"y":0},{"p":"WA","s":"SEA-Motor","x":10,"y":0.08},{"p":"WA","s":"SEA-Motor","x":12.4,"y":-0.05},{"p":"WA","s":"SEA-Motor","x":15.1,"y":-0.14},{"p":"WA","s":"SEA-Motor","x":17.9,"y":-0.18},{"p":"WA","s":"SEA-Motor","x":20.6,"y":-0.2},{"p":"WA","s":"SEA-Motor","x":24,"y":-0.11},{"p":"WA","s":"SEA-Motor","x":27.4,"y":0},{"p":"WA","s":"SEA-Motor","x":30.8,"y":0.15},{"p":"WA","s":"SEA-Motor","x":34.2,"y":0.37},{"p":"WA","s":"SEA-Motor","x":36.9,"y":0.66},{"p":"WA","s":"SEA-Motor","x":39.7,"y":0.96},{"p":"WA","s":"SEA-Motor","x":42.4,"y":1.18},{"p":"WA","s":"SEA-Motor","x":44.8,"y":1.31},{"p":"WA","s":"SEA-Motor","x":46.2,"y":1.25},{"p":"WA","s":"SEA-Motor","x":47.2,"y":1.07},{"p":"WA","s":"SEA-Motor","x":49.2,"y":0.55},{"p":"WA","s":"SEA-Motor","x":50.9,"y":0.44},{"p":"WA","s":"SEA-Motor","x":52.6,"y":0.37},{"p":"WA","s":"SEA-Motor","x":54.7,"y":0.81},{"p":"WA","s":"SEA-Motor","x":56.4,"y":1.18},{"p":"WA","s":"SEA-Motor","x":57.7,"y":1.29},{"p":"WA","s":"SEA-Motor","x":59.1,"y":1.03},{"p":"WA","s":"SEA-Motor","x":60.5,"y":0.48},{"p":"WA","s":"SEA-Motor","x":61.8,"y":0.22},{"p":"WA","s":"SEA-Motor","x":63.2,"y":0.02},{"p":"WA","s":"SEA-Motor","x":64.2,"y":-0.01},{"p":"WA","s":"SEA-Motor","x":67.6,"y":0.08},{"p":"WA","s":"SEA-Motor","x":77.2,"y":0.04},{"p":"WA","s":"SEA-Motor","x":100,"y":0.02},
      {"p":"WA","s":"SEA-Spring","x":0.8,"y":-0.01},{"p":"WA","s":"SEA-Spring","x":2.9,"y":0.06},{"p":"WA","s":"SEA-Spring","x":4.9,"y":-0.03},{"p":"WA","s":"SEA-Spring","x":6.6,"y":-0.07},{"p":"WA","s":"SEA-Spring","x":8.3,"y":0.02},{"p":"WA","s":"SEA-Spring","x":10,"y":0.04},{"p":"WA","s":"SEA-Spring","x":12.4,"y":-0.03},{"p":"WA","s":"SEA-Spring","x":15.1,"y":-0.14},{"p":"WA","s":"SEA-Spring","x":18.5,"y":-0.22},{"p":"WA","s":"SEA-Spring","x":21.3,"y":-0.23},{"p":"WA","s":"SEA-Spring","x":24.7,"y":-0.18},{"p":"WA","s":"SEA-Spring","x":28.1,"y":-0.18},{"p":"WA","s":"SEA-Spring","x":30.8,"y":-0.29},{"p":"WA","s":"SEA-Spring","x":33.5,"y":-0.47},{"p":"WA","s":"SEA-Spring","x":36.3,"y":-0.69},{"p":"WA","s":"SEA-Spring","x":39,"y":-1.02},{"p":"WA","s":"SEA-Spring","x":41,"y":-1.21},{"p":"WA","s":"SEA-Spring","x":42.7,"y":-1.32},{"p":"WA","s":"SEA-Spring","x":44.4,"y":-1.17},{"p":"WA","s":"SEA-Spring","x":46.1,"y":-0.62},{"p":"WA","s":"SEA-Spring","x":47.9,"y":0.3},{"p":"WA","s":"SEA-Spring","x":49.6,"y":1.32},{"p":"WA","s":"SEA-Spring","x":50.9,"y":1.95},{"p":"WA","s":"SEA-Spring","x":52.3,"y":2.35},{"p":"WA","s":"SEA-Spring","x":53.9,"y":2.5},{"p":"WA","s":"SEA-Spring","x":55.4,"y":2.2},{"p":"WA","s":"SEA-Spring","x":56.7,"y":1.58},{"p":"WA","s":"SEA-Spring","x":58.1,"y":0.96},{"p":"WA","s":"SEA-Spring","x":59.4,"y":0.55},{"p":"WA","s":"SEA-Spring","x":60.8,"y":0.19},{"p":"WA","s":"SEA-Spring","x":62.2,"y":0},{"p":"WA","s":"SEA-Spring","x":63.5,"y":-0.01},{"p":"WA","s":"SEA-Spring","x":100,"y":-0.01},

      {"p":"RA","s":"Direct Drive","x":1,"y":0},{"p":"RA","s":"Direct Drive","x":5.6,"y":0},{"p":"RA","s":"Direct Drive","x":7.4,"y":-0.33},{"p":"RA","s":"Direct Drive","x":9.1,"y":-1.51},{"p":"RA","s":"Direct Drive","x":10.9,"y":-2.83},{"p":"RA","s":"Direct Drive","x":12.6,"y":-3.88},{"p":"RA","s":"Direct Drive","x":14.7,"y":-4.41},{"p":"RA","s":"Direct Drive","x":16.8,"y":-3.88},{"p":"RA","s":"Direct Drive","x":18.9,"y":-1.91},{"p":"RA","s":"Direct Drive","x":20.7,"y":0.99},{"p":"RA","s":"Direct Drive","x":22.4,"y":4.28},{"p":"RA","s":"Direct Drive","x":24.2,"y":6.64},{"p":"RA","s":"Direct Drive","x":25.9,"y":8.22},{"p":"RA","s":"Direct Drive","x":28,"y":8.82},{"p":"RA","s":"Direct Drive","x":30.1,"y":8.22},{"p":"RA","s":"Direct Drive","x":32.2,"y":6.25},{"p":"RA","s":"Direct Drive","x":34,"y":4.41},{"p":"RA","s":"Direct Drive","x":35.7,"y":2.7},{"p":"RA","s":"Direct Drive","x":38,"y":1.12},{"p":"RA","s":"Direct Drive","x":39.9,"y":0.46},{"p":"RA","s":"Direct Drive","x":42.7,"y":0.07},{"p":"RA","s":"Direct Drive","x":45,"y":0},{"p":"RA","s":"Direct Drive","x":100,"y":0},
      {"p":"RA","s":"SEA-Motor","x":1,"y":0},{"p":"RA","s":"SEA-Motor","x":4.2,"y":0.07},{"p":"RA","s":"SEA-Motor","x":7,"y":0.33},{"p":"RA","s":"SEA-Motor","x":9.8,"y":1.12},{"p":"RA","s":"SEA-Motor","x":12.6,"y":2.04},{"p":"RA","s":"SEA-Motor","x":14.7,"y":2.43},{"p":"RA","s":"SEA-Motor","x":16.5,"y":2.57},{"p":"RA","s":"SEA-Motor","x":18.6,"y":2.17},{"p":"RA","s":"SEA-Motor","x":20.7,"y":1.51},{"p":"RA","s":"SEA-Motor","x":23.1,"y":1.12},{"p":"RA","s":"SEA-Motor","x":25.2,"y":1.38},{"p":"RA","s":"SEA-Motor","x":28,"y":2.04},{"p":"RA","s":"SEA-Motor","x":30.8,"y":2.57},{"p":"RA","s":"SEA-Motor","x":32.9,"y":2.43},{"p":"RA","s":"SEA-Motor","x":35,"y":1.78},{"p":"RA","s":"SEA-Motor","x":37.1,"y":0.86},{"p":"RA","s":"SEA-Motor","x":39.2,"y":0.26},{"p":"RA","s":"SEA-Motor","x":42,"y":0.04},{"p":"RA","s":"SEA-Motor","x":45,"y":0},{"p":"RA","s":"SEA-Motor","x":100,"y":0},
      {"p":"RA","s":"SEA-Spring","x":1,"y":0},{"p":"RA","s":"SEA-Spring","x":4.9,"y":-0.07},{"p":"RA","s":"SEA-Spring","x":7,"y":-0.72},{"p":"RA","s":"SEA-Spring","x":9.1,"y":-2.3},{"p":"RA","s":"SEA-Spring","x":11.2,"y":-4.54},{"p":"RA","s":"SEA-Spring","x":13.3,"y":-6.51},{"p":"RA","s":"SEA-Spring","x":15.1,"y":-7.04},{"p":"RA","s":"SEA-Spring","x":16.8,"y":-6.38},{"p":"RA","s":"SEA-Spring","x":18.6,"y":-4.54},{"p":"RA","s":"SEA-Spring","x":20.3,"y":-1.64},{"p":"RA","s":"SEA-Spring","x":22.1,"y":2.3},{"p":"RA","s":"SEA-Spring","x":23.8,"y":4.93},{"p":"RA","s":"SEA-Spring","x":25.6,"y":6.25},{"p":"RA","s":"SEA-Spring","x":27.3,"y":6.78},{"p":"RA","s":"SEA-Spring","x":28.4,"y":6.84},{"p":"RA","s":"SEA-Spring","x":29.8,"y":6.25},{"p":"RA","s":"SEA-Spring","x":31.5,"y":4.93},{"p":"RA","s":"SEA-Spring","x":33.3,"y":3.36},{"p":"RA","s":"SEA-Spring","x":35,"y":2.04},{"p":"RA","s":"SEA-Spring","x":37.1,"y":0.72},{"p":"RA","s":"SEA-Spring","x":39.2,"y":0.13},{"p":"RA","s":"SEA-Spring","x":42,"y":0},{"p":"RA","s":"SEA-Spring","x":100,"y":0}
    ],
    "marks": [
      {"p":"WH","x":60,"y":1.28},{"p":"RH","x":38,"y":-0.35},{"p":"WK","x":60,"y":-1.36},
      {"p":"RK","x":38,"y":0},{"p":"WA","x":60,"y":1.0},{"p":"RA","x":38,"y":1.1}
    ],
    "notes": [
      {"p":"RA","x":41,"y":1.4,"label":"take off"}
    ]
  },
  "columns": 2,
  "spacing": {"row": 18, "column": 29},
  "resolve": {"scale": {"x": "independent", "y": "independent"}},
  "concat": [
    {
      "width": 1686, "height": 652,
      "title": {"text": "Walking 1.6m/s"},
      "layer": [
        {
          "data": {"name": "curves"},
          "transform": [{"filter": "datum.p == 'WH'"}],
          "mark": {"type": "line", "strokeWidth": 11, "interpolate": "monotone", "clip": true},
          "encoding": {
            "x": {"field": "x", "type": "quantitative", "scale": {"domain": [0, 100], "nice": false}, "axis": {"values": [0, 20, 40, 60, 80, 100], "title": null, "format": "~r"}},
            "y": {"field": "y", "type": "quantitative", "scale": {"domain": [-1.1, 1.4], "nice": false, "zero": false}, "axis": {"values": [-1, -0.5, 0, 0.5, 1], "format": "~r", "title": "Hip", "titleX": -145, "titleBaseline": "alphabetic"}},
            "color": {"field": "s", "type": "nominal", "scale": {"domain": ["Direct Drive", "SEA-Motor", "SEA-Spring"], "range": ["#000000", "#555555", "#9a9a9a"]}, "legend": {"title": null, "orient": "none", "legendX": 3067, "legendY": 1895}},
            "strokeDash": {"field": "s", "type": "nominal", "scale": {"domain": ["Direct Drive", "SEA-Motor", "SEA-Spring"], "range": [[1, 0], [12, 12], [38, 22]]}, "legend": {"title": null, "orient": "none", "legendX": 3067, "legendY": 1895}}
          }
        },
        {
          "data": {"name": "marks"},
          "transform": [{"filter": "datum.p == 'WH'"}],
          "mark": {"type": "point", "shape": "diamond", "filled": true, "color": "black", "opacity": 1, "size": 3400},
          "encoding": {
            "x": {"field": "x", "type": "quantitative", "scale": {"domain": [0, 100], "nice": false}, "axis": {"orient": "top", "values": [0, 20, 40, 60, 80, 100], "labels": false, "grid": false, "title": null}},
            "y": {"field": "y", "type": "quantitative", "scale": {"domain": [-1.1, 1.4], "nice": false, "zero": false}, "axis": {"orient": "right", "values": [-1, -0.5, 0, 0.5, 1], "labels": false, "grid": false, "title": null}}
          }
        }
      ],
      "resolve": {"axis": {"x": "independent", "y": "independent"}}
    },
    {
      "width": 1686, "height": 652,
      "title": {"text": "Running 2.6m/s"},
      "layer": [
        {
          "data": {"name": "curves"},
          "transform": [{"filter": "datum.p == 'RH'"}],
          "mark": {"type": "line", "strokeWidth": 11, "interpolate": "monotone", "clip": true},
          "encoding": {
            "x": {"field": "x", "type": "quantitative", "scale": {"domain": [0, 100], "nice": false}, "axis": {"values": [0, 20, 40, 60, 80, 100], "title": null, "format": "~r"}},
            "y": {"field": "y", "type": "quantitative", "scale": {"domain": [-2.5, 1.7], "nice": false, "zero": false}, "axis": {"values": [-2, -1, 0, 1], "format": "~r", "title": null}},
            "color": {"field": "s", "type": "nominal", "scale": {"domain": ["Direct Drive", "SEA-Motor", "SEA-Spring"], "range": ["#000000", "#555555", "#9a9a9a"]}, "legend": {"title": null, "orient": "none", "legendX": 3067, "legendY": 1895}},
            "strokeDash": {"field": "s", "type": "nominal", "scale": {"domain": ["Direct Drive", "SEA-Motor", "SEA-Spring"], "range": [[1, 0], [12, 12], [38, 22]]}, "legend": {"title": null, "orient": "none", "legendX": 3067, "legendY": 1895}}
          }
        },
        {
          "data": {"name": "marks"},
          "transform": [{"filter": "datum.p == 'RH'"}],
          "mark": {"type": "point", "shape": "diamond", "filled": true, "color": "black", "opacity": 1, "size": 3400},
          "encoding": {
            "x": {"field": "x", "type": "quantitative", "scale": {"domain": [0, 100], "nice": false}, "axis": {"orient": "top", "values": [0, 20, 40, 60, 80, 100], "labels": false, "grid": false, "title": null}},
            "y": {"field": "y", "type": "quantitative", "scale": {"domain": [-2.5, 1.7], "nice": false, "zero": false}, "axis": {"orient": "right", "values": [-2, -1, 0, 1], "labels": false, "grid": false, "title": null}}
          }
        }
      ],
      "resolve": {"axis": {"x": "independent", "y": "independent"}}
    },
    {
      "width": 1686, "height": 652,
      "layer": [
        {
          "data": {"name": "curves"},
          "transform": [{"filter": "datum.p == 'WK'"}],
          "mark": {"type": "line", "strokeWidth": 11, "interpolate": "monotone", "clip": true},
          "encoding": {
            "x": {"field": "x", "type": "quantitative", "scale": {"domain": [0, 100], "nice": false}, "axis": {"values": [0, 20, 40, 60, 80, 100], "title": null, "format": "~r"}},
            "y": {"field": "y", "type": "quantitative", "scale": {"domain": [-1.9, 1.9], "nice": false, "zero": false}, "axis": {"values": [-1, 0, 1], "format": "~r", "title": ["Motor Power [W/kg]", "Knee"], "titleX": -218, "titleLineHeight": 73, "titleBaseline": "alphabetic"}},
            "color": {"field": "s", "type": "nominal", "scale": {"domain": ["Direct Drive", "SEA-Motor", "SEA-Spring"], "range": ["#000000", "#555555", "#9a9a9a"]}, "legend": {"title": null, "orient": "none", "legendX": 3067, "legendY": 1895}},
            "strokeDash": {"field": "s", "type": "nominal", "scale": {"domain": ["Direct Drive", "SEA-Motor", "SEA-Spring"], "range": [[1, 0], [12, 12], [38, 22]]}, "legend": {"title": null, "orient": "none", "legendX": 3067, "legendY": 1895}}
          }
        },
        {
          "data": {"name": "marks"},
          "transform": [{"filter": "datum.p == 'WK'"}],
          "mark": {"type": "point", "shape": "diamond", "filled": true, "color": "black", "opacity": 1, "size": 3400},
          "encoding": {
            "x": {"field": "x", "type": "quantitative", "scale": {"domain": [0, 100], "nice": false}, "axis": {"orient": "top", "values": [0, 20, 40, 60, 80, 100], "labels": false, "grid": false, "title": null}},
            "y": {"field": "y", "type": "quantitative", "scale": {"domain": [-1.9, 1.9], "nice": false, "zero": false}, "axis": {"orient": "right", "values": [-1, 0, 1], "labels": false, "grid": false, "title": null}}
          }
        }
      ],
      "resolve": {"axis": {"x": "independent", "y": "independent"}}
    },
    {
      "width": 1686, "height": 652,
      "layer": [
        {
          "data": {"name": "curves"},
          "transform": [{"filter": "datum.p == 'RK'"}],
          "mark": {"type": "line", "strokeWidth": 11, "interpolate": "monotone", "clip": true},
          "encoding": {
            "x": {"field": "x", "type": "quantitative", "scale": {"domain": [0, 100], "nice": false}, "axis": {"values": [0, 20, 40, 60, 80, 100], "title": null, "format": "~r"}},
            "y": {"field": "y", "type": "quantitative", "scale": {"domain": [-10, 7.3], "nice": false, "zero": false}, "axis": {"values": [-10, -5, 0, 5], "format": "~r", "title": null}},
            "color": {"field": "s", "type": "nominal", "scale": {"domain": ["Direct Drive", "SEA-Motor", "SEA-Spring"], "range": ["#000000", "#555555", "#9a9a9a"]}, "legend": {"title": null, "orient": "none", "legendX": 3067, "legendY": 1895}},
            "strokeDash": {"field": "s", "type": "nominal", "scale": {"domain": ["Direct Drive", "SEA-Motor", "SEA-Spring"], "range": [[1, 0], [12, 12], [38, 22]]}, "legend": {"title": null, "orient": "none", "legendX": 3067, "legendY": 1895}}
          }
        },
        {
          "data": {"name": "marks"},
          "transform": [{"filter": "datum.p == 'RK'"}],
          "mark": {"type": "point", "shape": "diamond", "filled": true, "color": "black", "opacity": 1, "size": 3400},
          "encoding": {
            "x": {"field": "x", "type": "quantitative", "scale": {"domain": [0, 100], "nice": false}, "axis": {"orient": "top", "values": [0, 20, 40, 60, 80, 100], "labels": false, "grid": false, "title": null}},
            "y": {"field": "y", "type": "quantitative", "scale": {"domain": [-10, 7.3], "nice": false, "zero": false}, "axis": {"orient": "right", "values": [-10, -5, 0, 5], "labels": false, "grid": false, "title": null}}
          }
        }
      ],
      "resolve": {"axis": {"x": "independent", "y": "independent"}}
    },
    {
      "width": 1686, "height": 652,
      "layer": [
        {
          "data": {"name": "curves"},
          "transform": [{"filter": "datum.p == 'WA'"}],
          "mark": {"type": "line", "strokeWidth": 11, "interpolate": "monotone", "clip": true},
          "encoding": {
            "x": {"field": "x", "type": "quantitative", "scale": {"domain": [0, 100], "nice": false}, "axis": {"values": [0, 20, 40, 60, 80, 100], "format": "~r", "title": "gait cycle [%]", "titleY": 152, "titleBaseline": "alphabetic"}},
            "y": {"field": "y", "type": "quantitative", "scale": {"domain": [-1.7, 3.3], "nice": false, "zero": false}, "axis": {"values": [-1, 0, 1, 2, 3], "format": "~r", "title": "Ankle", "titleX": -145, "titleBaseline": "alphabetic"}},
            "color": {"field": "s", "type": "nominal", "scale": {"domain": ["Direct Drive", "SEA-Motor", "SEA-Spring"], "range": ["#000000", "#555555", "#9a9a9a"]}, "legend": {"title": null, "orient": "none", "legendX": 3067, "legendY": 1895}},
            "strokeDash": {"field": "s", "type": "nominal", "scale": {"domain": ["Direct Drive", "SEA-Motor", "SEA-Spring"], "range": [[1, 0], [12, 12], [38, 22]]}, "legend": {"title": null, "orient": "none", "legendX": 3067, "legendY": 1895}}
          }
        },
        {
          "data": {"name": "marks"},
          "transform": [{"filter": "datum.p == 'WA'"}],
          "mark": {"type": "point", "shape": "diamond", "filled": true, "color": "black", "opacity": 1, "size": 3400},
          "encoding": {
            "x": {"field": "x", "type": "quantitative", "scale": {"domain": [0, 100], "nice": false}, "axis": {"orient": "top", "values": [0, 20, 40, 60, 80, 100], "labels": false, "grid": false, "title": null}},
            "y": {"field": "y", "type": "quantitative", "scale": {"domain": [-1.7, 3.3], "nice": false, "zero": false}, "axis": {"orient": "right", "values": [-1, 0, 1, 2, 3], "labels": false, "grid": false, "title": null}}
          }
        }
      ],
      "resolve": {"axis": {"x": "independent", "y": "independent"}}
    },
    {
      "width": 1686, "height": 652,
      "layer": [
        {
          "data": {"name": "curves"},
          "transform": [{"filter": "datum.p == 'RA'"}],
          "mark": {"type": "line", "strokeWidth": 11, "interpolate": "monotone", "clip": true},
          "encoding": {
            "x": {"field": "x", "type": "quantitative", "scale": {"domain": [0, 100], "nice": false}, "axis": {"values": [0, 20, 40, 60, 80, 100], "format": "~r", "title": "gait cycle [%]", "titleY": 152, "titleBaseline": "alphabetic"}},
            "y": {"field": "y", "type": "quantitative", "scale": {"domain": [-8.8, 9.1], "nice": false, "zero": false}, "axis": {"values": [-5, 0, 5], "format": "~r", "title": null}},
            "color": {"field": "s", "type": "nominal", "scale": {"domain": ["Direct Drive", "SEA-Motor", "SEA-Spring"], "range": ["#000000", "#555555", "#9a9a9a"]}, "legend": {"title": null, "orient": "none", "legendX": 3067, "legendY": 1895}},
            "strokeDash": {"field": "s", "type": "nominal", "scale": {"domain": ["Direct Drive", "SEA-Motor", "SEA-Spring"], "range": [[1, 0], [12, 12], [38, 22]]}, "legend": {"title": null, "orient": "none", "legendX": 3067, "legendY": 1895}}
          }
        },
        {
          "data": {"name": "marks"},
          "transform": [{"filter": "datum.p == 'RA'"}],
          "mark": {"type": "point", "shape": "diamond", "filled": true, "color": "black", "opacity": 1, "size": 3400},
          "encoding": {
            "x": {"field": "x", "type": "quantitative", "scale": {"domain": [0, 100], "nice": false}, "axis": {"orient": "top", "values": [0, 20, 40, 60, 80, 100], "labels": false, "grid": false, "title": null}},
            "y": {"field": "y", "type": "quantitative", "scale": {"domain": [-8.8, 9.1], "nice": false, "zero": false}, "axis": {"orient": "right", "values": [-5, 0, 5], "labels": false, "grid": false, "title": null}}
          }
        },
        {
          "data": {"name": "notes"},
          "mark": {"type": "text", "align": "left", "baseline": "alphabetic", "fontSize": 75, "font": "Liberation Sans", "color": "black"},
          "encoding": {
            "x": {"field": "x", "type": "quantitative", "scale": {"domain": [0, 100], "nice": false}, "axis": null},
            "y": {"field": "y", "type": "quantitative", "scale": {"domain": [-8.8, 9.1], "nice": false, "zero": false}, "axis": null},
            "text": {"field": "label"}
          }
        }
      ],
      "resolve": {"axis": {"x": "independent", "y": "independent"}}
    }
  ],
  "config": {
    "font": "Liberation Sans",
    "view": {"stroke": "black", "strokeWidth": 5},
    "locale": {"number": {"decimal": ".", "thousands": ",", "grouping": [3], "currency": ["$", ""], "minus": "-"}},
    "title": {"font": "Liberation Sans", "fontSize": 78, "fontWeight": "normal", "color": "black", "offset": 50, "baseline": "alphabetic", "frame": "group", "anchor": "middle"},
    "axis": {
      "labelFont": "Liberation Sans", "labelFontSize": 60, "labelColor": "black",
      "labelFlush": false, "labelOverlap": false, "labelBound": false,
      "titleFont": "Liberation Sans", "titleFontSize": 64, "titleFontWeight": "normal", "titleColor": "black", "titleLimit": 2000,
      "domain": false,
      "ticks": true, "tickColor": "black", "tickWidth": 5, "tickSize": -20,
      "grid": true, "gridColor": "black", "gridDash": [6, 29], "gridWidth": 4, "gridOpacity": 1
    },
    "axisX": {"labelPadding": 46},
    "axisY": {"labelPadding": 42},
    "legend": {
      "labelFont": "Liberation Sans", "labelFontSize": 62, "labelColor": "black", "labelLimit": 1000, "labelOffset": 16,
      "symbolType": "stroke", "symbolSize": 3600, "symbolStrokeWidth": 11,
      "strokeColor": "black", "fillColor": "white", "padding": 20, "rowPadding": -2
    }
  }
}
